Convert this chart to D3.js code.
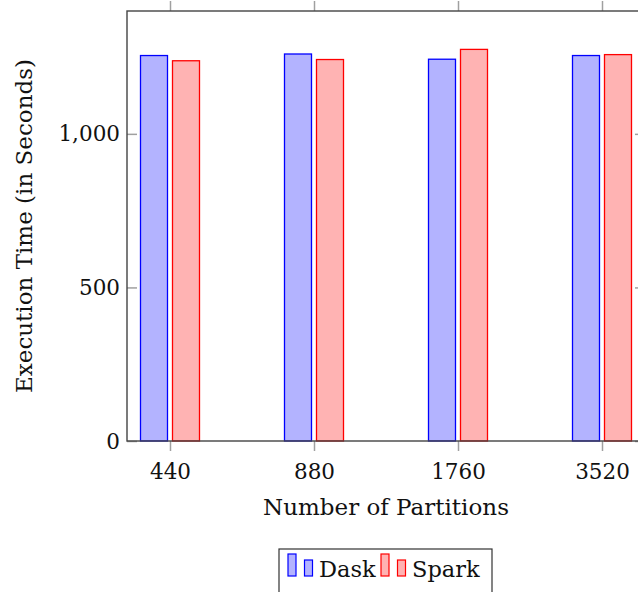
<!DOCTYPE html>
<html><head><meta charset="utf-8">
<script src="https://cdn.jsdelivr.net/npm/d3@7"></script>
<style>body{margin:0;background:#fff}svg{display:block}text{font-family:"DejaVu Serif",serif;fill:#111}</style>
</head><body><svg id="c" width="638" height="592"></svg>
<script>
const categories = ["440","880","1760","3520"];
const dask = [1255, 1260, 1243, 1255];
const spark = [1238, 1242, 1275, 1258];
const yTicks = [0, 500, 1000];
const seriesNames = ["Dask","Spark"];

const FONT = "DejaVu Serif", FS = 23, TFS = 21.5;
const svg = d3.select("#c");
const L = 127, R = 645, T = 11, B = 441;
const x = d3.scalePoint().domain(categories).range([170, 602]);
const y = d3.scaleLinear().domain([0, 1400]).range([B, T]);
const fills = ["#b3b3ff", "#ffb3b3"], strokes = ["#0000ff", "#ff0000"];
const bw = 27, off = 16;
const series = [dask, spark];

series.forEach((vals, s) => {
  svg.append("g").selectAll("rect").data(vals).join("rect")
    .attr("x", (d, i) => x(categories[i]) + (s === 0 ? -off : off) - bw / 2)
    .attr("y", d => y(d))
    .attr("width", bw)
    .attr("height", d => B - y(d))
    .attr("fill", fills[s]).attr("stroke", strokes[s]).attr("stroke-width", 1.3);
});

const tickCol = "#a0a0a0";
const gb = svg.append("g").attr("transform", `translate(0,${B})`).call(d3.axisBottom(x).tickSize(10).tickPadding(8));
gb.select(".domain").remove();
gb.selectAll("line").attr("stroke", tickCol).attr("stroke-width", 1.5);
gb.selectAll("text").attr("font-size", TFS).attr("font-family", FONT).attr("fill", "#111")
  .attr("y", 38).attr("dy", null);

const gt = svg.append("g").attr("transform", `translate(0,${T})`).call(d3.axisTop(x).tickSize(10).tickFormat(""));
gt.select(".domain").remove();
gt.selectAll("line").attr("stroke", tickCol).attr("stroke-width", 1.5);

const gl = svg.append("g").attr("transform", `translate(${L},0)`)
  .call(d3.axisRight(y).tickValues(yTicks).tickSize(10).tickFormat(""));
gl.select(".domain").remove();
gl.selectAll("line").attr("stroke", tickCol).attr("stroke-width", 1.5);
svg.append("g").selectAll("text").data(yTicks).join("text")
  .attr("x", L - 7).attr("y", d => y(d)).attr("dy", "0.35em").attr("text-anchor", "end")
  .attr("font-size", TFS).text(d => d3.format(",")(d));

const gr = svg.append("g").attr("transform", `translate(${R},0)`)
  .call(d3.axisLeft(y).tickValues(yTicks).tickSize(10).tickFormat(""));
gr.select(".domain").remove();
gr.selectAll("line").attr("stroke", tickCol).attr("stroke-width", 1.5);

svg.append("rect").attr("x", L).attr("y", T).attr("width", R - L).attr("height", B - T)
  .attr("fill", "none").attr("stroke", "#444").attr("stroke-width", 1.4);

svg.append("text").attr("x", (L + R) / 2).attr("y", 515).attr("text-anchor", "middle")
  .attr("font-size", FS).text("Number of Partitions");
svg.append("text").attr("transform", `translate(32,${(T + B) / 2}) rotate(-90)`)
  .attr("text-anchor", "middle").attr("font-size", FS).text("Execution Time (in Seconds)");

const lg = svg.append("g");
lg.append("rect").attr("x", 279).attr("y", 549).attr("width", 213).attr("height", 60)
  .attr("fill", "#fff").attr("stroke", "#333").attr("stroke-width", 1.2);
const items = [{x: 288, tx: 319}, {x: 381, tx: 412}];
seriesNames.forEach((n, i) => {
  const it = items[i];
  lg.append("rect").attr("x", it.x).attr("y", 554).attr("width", 8).attr("height", 22)
    .attr("fill", fills[i]).attr("stroke", strokes[i]).attr("stroke-width", 1.2);
  lg.append("rect").attr("x", it.x + 16.5).attr("y", 560).attr("width", 8).attr("height", 16)
    .attr("fill", fills[i]).attr("stroke", strokes[i]).attr("stroke-width", 1.2);
  lg.append("text").attr("x", it.tx).attr("y", 577).attr("font-size", 22.5).text(n);
});
</script></body></html>
